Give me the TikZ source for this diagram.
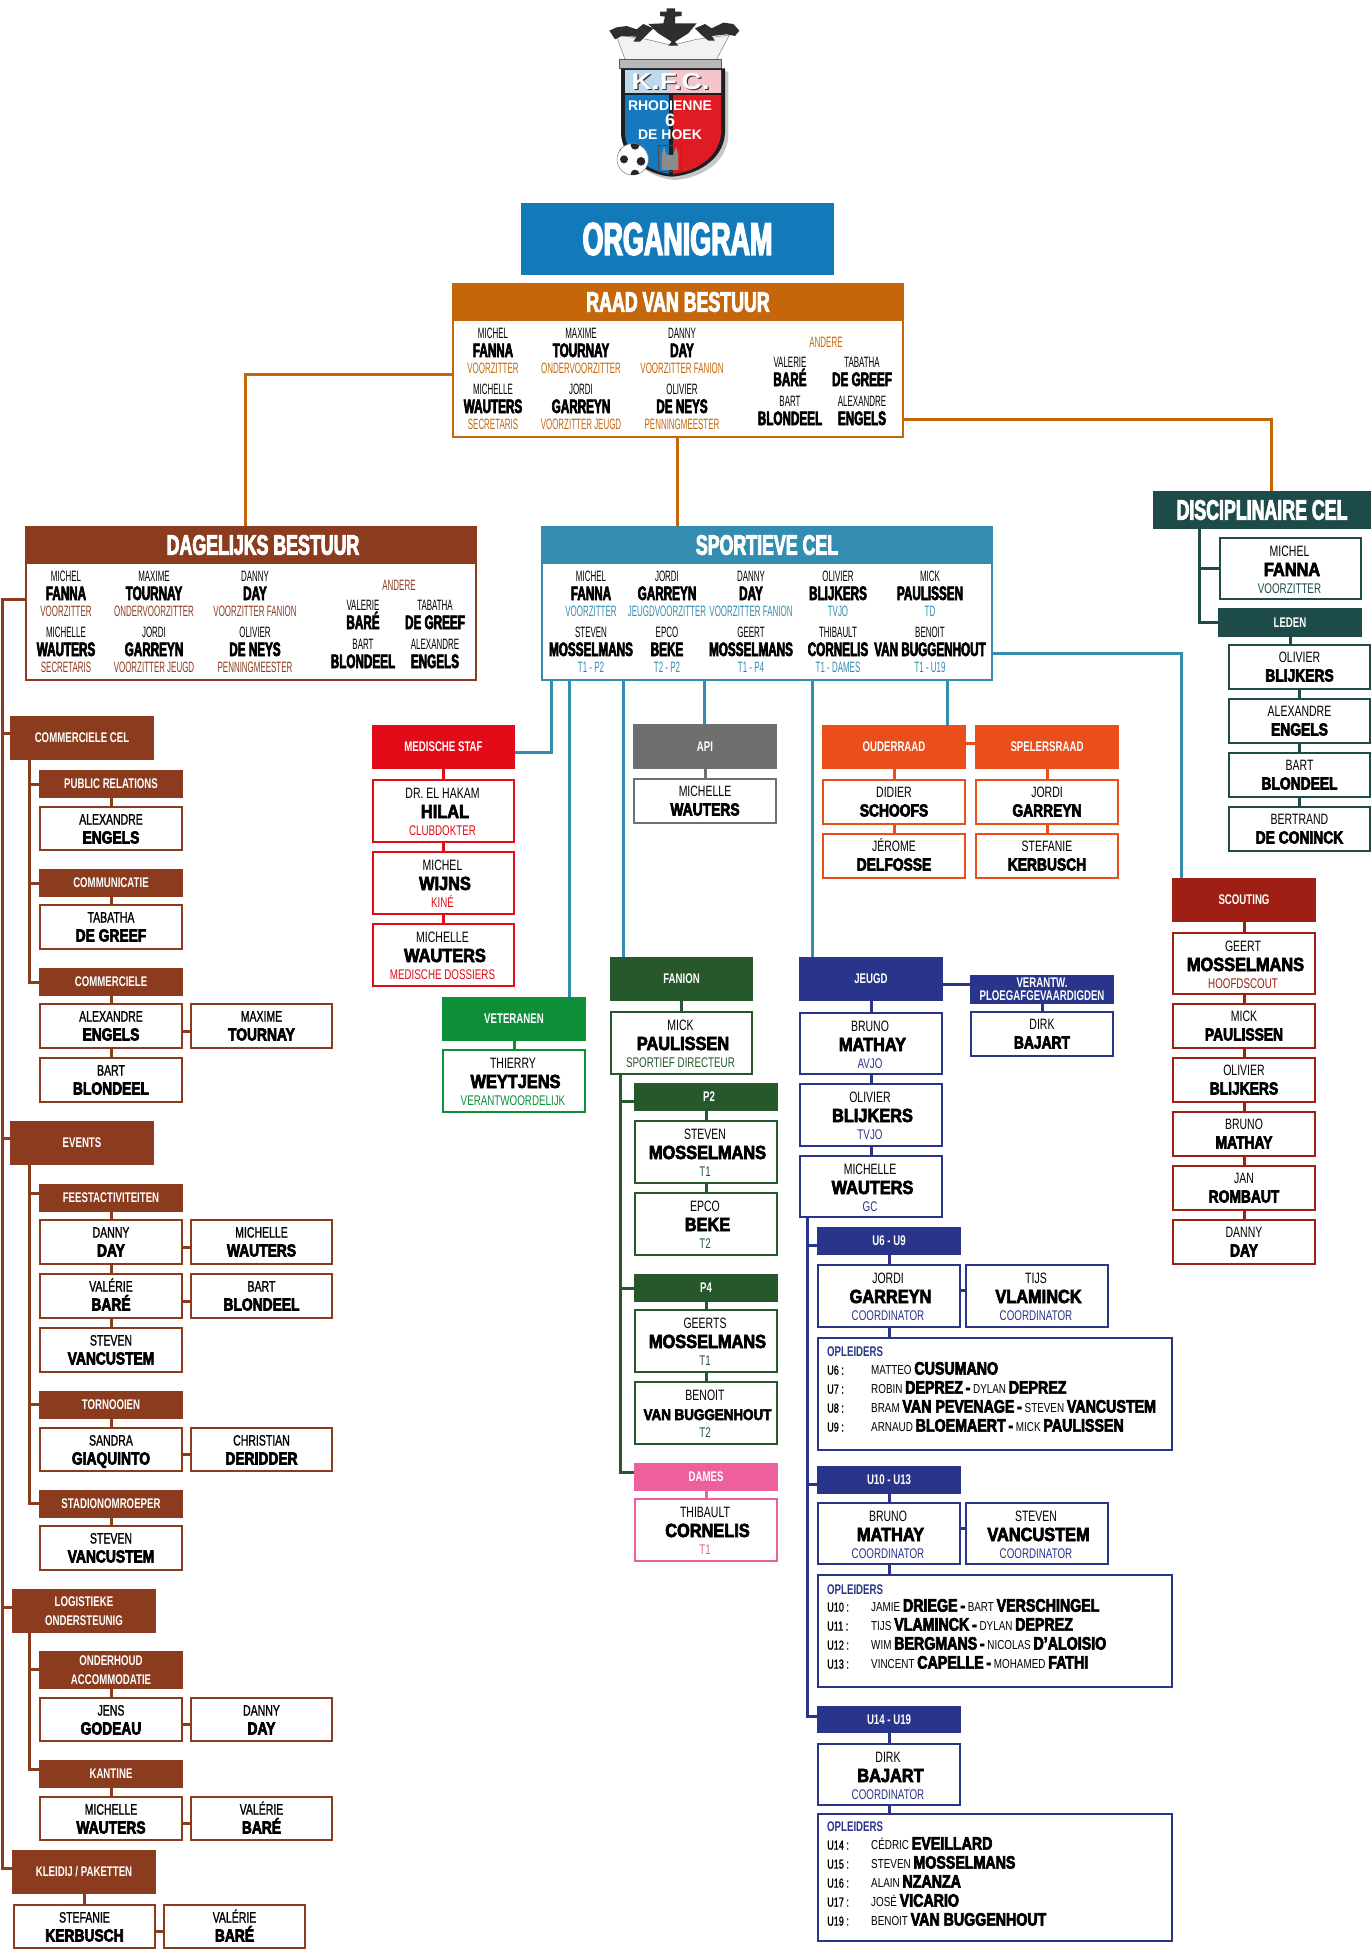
\documentclass[tikz,border=0pt]{standalone}
\usepackage{fontspec}
\usepackage{graphicx}
\setmainfont{Liberation Sans}
\newfontfamily\FTitle[FakeStretch=.635,FakeBold=3]{Liberation Sans Bold}
\newfontfamily\FBoard[FakeStretch=.60,FakeBold=3]{Liberation Sans Bold}
\newfontfamily\FOrg[FakeStretch=.585,FakeBold=3]{Liberation Sans Bold}
\newfontfamily\FFirst[FakeStretch=.53]{Liberation Sans}
\newfontfamily\FName[FakeStretch=.70]{Liberation Sans}
\newfontfamily\FMed[FakeStretch=.70,FakeBold=1.2]{Liberation Sans}
\newfontfamily\FLab[FakeStretch=.69]{Liberation Sans Bold}
\newfontfamily\FBig[FakeStretch=.86,FakeBold=3.5]{Liberation Sans Bold}
\newfontfamily\FSmall[FakeStretch=.79,FakeBold=3.5]{Liberation Sans Bold}
\newfontfamily\FOp[FakeStretch=.76]{Liberation Sans}
\newfontfamily\FLogo{Liberation Sans Bold}
\newfontfamily\FLogoW[FakeStretch=1.22]{Liberation Sans Bold}
\def\fT{\FTitle\fontsize{28}{28}\selectfont}
\def\fBL{\FBoard\fontsize{19.5}{19.5}\selectfont}
\def\fBF{\FFirst\fontsize{15}{15}\selectfont}
\def\fF{\FName\fontsize{15}{15}\selectfont}
\def\fM{\FMed\fontsize{15}{15}\selectfont}
\def\fL{\FBig\fontsize{19}{19}\selectfont}
\def\fS{\FSmall\fontsize{17.5}{17.5}\selectfont}
\def\fR{\FName\fontsize{14}{14}\selectfont}
\def\fH{\FLab\fontsize{14}{19}\selectfont}
\def\fOP{\FOp\fontsize{13}{13}\selectfont}
\newcommand\sm[1]{{\FOp\fontsize{13}{13}\selectfont #1}}
\newcommand\bgn[1]{{\FSmall\fontsize{18}{18}\selectfont #1}}
\definecolor{corg}{HTML}{137ABA}
\definecolor{craad}{HTML}{C5660A}
\definecolor{cdag}{HTML}{8B3C1E}
\definecolor{cspo}{HTML}{328DB1}
\definecolor{cdis}{HTML}{1C4B4A}
\definecolor{cmed}{HTML}{E30B17}
\definecolor{capi}{HTML}{6F6F6F}
\definecolor{coud}{HTML}{E94E1B}
\definecolor{cfan}{HTML}{26582C}
\definecolor{cvet}{HTML}{0F8E38}
\definecolor{cjeu}{HTML}{29358A}
\definecolor{cdam}{HTML}{EE609D}
\definecolor{csco}{HTML}{9F1F14}
\definecolor{lred}{HTML}{E01B24}
\definecolor{lblu}{HTML}{1678BE}
\definecolor{bblu}{HTML}{BCD9EE}
\definecolor{bpnk}{HTML}{F4C5CB}
\tikzset{
  hdr/.style={inner sep=0,text=white,font=\fH,align=center},
  frm/.style={draw,line width=2.3pt,fill=white,inner sep=0},
  conn/.style={line width=3pt}
}
\newcount\tcnt
\newcommand\nxt{\global\advance\tcnt by 1 }
\newcommand\TX[5]{\nxt\node[anchor=base,inner sep=0,text=#4,font=#3] (t\the\tcnt) at ({#1},{#2}) {#5};}
\newcommand\TL[5]{\nxt\node[anchor=base west,inner sep=0,text=#4,font=#3] (t\the\tcnt) at ({#1},{#2}) {#5};}
\newcommand\HM[7]{\node[hdr,fill=#6,minimum width={(#4-#2)*1pt},minimum height={(#5-#3)*1pt}] (#1) at ({(#2+#4)/2},{(#3+#5)/2}) {#7};}
\newcommand\HD[7]{\HM{#1}{#2}{#3}{#4}{#5}{#6}{\raisebox{-1.2pt}{#7}}}
\newcommand\FR[6]{\node[frm,draw=#6,minimum width={(#4-#2-2.3)*1pt},minimum height={(#5-#3-2.3)*1pt}] (#1) at ({(#2+#4)/2},{(#3+#5)/2}) {};}
\newcommand\PT[9]{\FR{#1}{#2}{#3}{#4}{#5}{#6}
  \TX{(#2+#4)/2-1}{#3+19.5}{\fF}{black}{#7}
  \TX{(#2+#4)/2+1.5}{#3+39}{\fL}{black}{#8}
  \TX{(#2+#4)/2-1}{#3+56}{\fR}{#6}{#9}}
\newcommand\PW[8]{\FR{#1}{#2}{#3}{#4}{#5}{#6}
  \TX{(#2+#4)/2}{#3+18.5}{\fF}{black}{#7}
  \TX{(#2+#4)/2}{#3+37.5}{\fS}{black}{#8}}
\newcommand\PB[8]{\FR{#1}{#2}{#3}{#4}{#5}{#6}
  \TX{(#2+#4)/2}{#3+18.5}{\fM}{black}{#7}
  \TX{(#2+#4)/2}{#3+37.5}{\fS}{black}{#8}}
% board entries
\newcommand\BP[6]{\TX{#1}{#2+5.4}{\fBF}{black}{#4}\TX{#1}{#2+24}{\fBL}{black}{#5}\TX{#1}{#2+40.4}{\fBF}{#3}{#6}}
\newcommand\BQ[4]{\TX{#1}{#2+5.4}{\fBF}{black}{#3}\TX{#1}{#2+24}{\fBL}{black}{#4}}
\newcommand\Board[3]{% dx dy colour
  \BP{493+#1}{333+#2}{#3}{MICHEL}{FANNA}{VOORZITTER}
  \BP{581+#1}{333+#2}{#3}{MAXIME}{TOURNAY}{ONDERVOORZITTER}
  \BP{682+#1}{333+#2}{#3}{DANNY}{DAY}{VOORZITTER FANION}
  \BP{493+#1}{389+#2}{#3}{MICHELLE}{WAUTERS}{SECRETARIS}
  \BP{581+#1}{389+#2}{#3}{JORDI}{GARREYN}{VOORZITTER JEUGD}
  \BP{682+#1}{389+#2}{#3}{OLIVIER}{DE NEYS}{PENNINGMEESTER}
  \TX{826+#1}{342+#2+5.4}{\fBF}{#3}{ANDERE}
  \BQ{790+#1}{362+#2}{VALERIE}{BARÉ}
  \BQ{862+#1}{362+#2}{TABATHA}{DE GREEF}
  \BQ{790+#1}{401+#2}{BART}{BLONDEEL}
  \BQ{862+#1}{401+#2}{ALEXANDRE}{ENGELS}}
\newcommand\VC[3]{\draw[conn,#1] (#2.south) -- (#2.south |- #3.north);}
\newcommand\HL[4]{\draw[conn,#1] (#2.east |- 0,#4) -- (#3.west |- 0,#4);}
\newcommand\BR[4]{\draw[conn,#1] (#2,#3) -- (#4.west |- 0,#3);}
\newcommand\OP[3]{\TL{827}{#1+4.6}{\fM\fontsize{13}{13}\selectfont}{black}{#2}\TL{871}{#1+4.6}{\fOP}{black}{#3}}
\newcommand\OH[2]{\TL{827}{#1+5}{\fH}{cjeu}{#2}}
\begin{document}
\begin{tikzpicture}[x=1pt,y=-1pt]
\useasboundingbox[fill=white] (0,0) rectangle (1371,1950);
% ---------- logo
\begin{scope}[shift={(440,0)},scale=1/3]
  \path[fill=black!22] (553,215) -- (865,215) -- (865,410) .. controls (860,490) and (780,535) .. (705,540) .. controls (630,535) and (555,480) .. (553,410) -- cycle;
  % crown body
  \path[fill=black!5,draw=black!45,line width=.6pt] (555,178) -- (528,105) -- (620,118) -- (695,136) -- (770,118) -- (868,105) -- (830,178) -- cycle;
  % ornaments
  \path[fill=black!82] (508,92) -- (530,82) -- (560,78) -- (590,88) -- (610,72) -- (640,85) -- (620,105) -- (600,125) -- (580,125) -- (590,110) -- (545,108) -- (525,118) -- cycle;
  \path[fill=black!82] (898,92) -- (880,72) -- (850,68) -- (815,85) -- (795,72) -- (765,85) -- (785,105) -- (805,122) -- (825,122) -- (815,108) -- (860,103) -- (885,108) -- cycle;
  \path[fill=black!82] (625,72) -- (670,70) -- (675,50) -- (660,48) -- (660,35) -- (680,35) -- (680,25) -- (705,25) -- (705,35) -- (725,35) -- (725,48) -- (705,50) -- (705,70) -- (770,70) -- (745,100) -- (705,125) -- (715,137) -- (685,137) -- (695,125) -- (655,100) -- cycle;
  \path[fill=black!28,draw=black!65,line width=.6pt] (537,178) -- (845,178) -- (845,205) -- (537,205) -- cycle;
  % shield
  \path[fill=black!88] (543,205) -- (855,205) -- (855,400) .. controls (850,480) and (770,525) .. (695,530) .. controls (620,525) and (545,470) .. (543,400) -- cycle;
  \begin{scope}
    \clip (555,210) -- (843,210) -- (843,400) .. controls (838,472) and (765,517) .. (695,522) .. controls (625,517) and (557,462) .. (555,400) -- cycle;
    \path[fill=lblu] (555,285) rectangle (686,530);
    \path[fill=lred] (698,285) rectangle (845,530);
    \path[fill=bblu] (555,210) rectangle (690,280);
    \path[fill=bpnk] (690,210) rectangle (845,280);
  \end{scope}
  \node[inner sep=0,font={\FLogoW\fontsize{23}{23}\selectfont},text=white] (lkfc) at (692,246) {\rlap{\raisebox{-1.2pt}{\kern1.2pt\color{black!80}K.F.C.}}K.F.C.};
  \node[inner sep=0,font={\FLogo\fontsize{14}{14}\selectfont},text=white] (lrho) at (690,316) {RHODIENNE};
  \node[inner sep=0,font={\FLogo\fontsize{18}{18}\selectfont},text=white] (lsix) at (690,360) {6};
  \node[inner sep=0,font={\FLogo\fontsize{14}{14}\selectfont},text=white] (lhoek) at (690,405) {DE HOEK};
  % church
  \path[draw=black!70,line width=.4pt] (655,435) rectangle (725,515);
  \path[fill=black!45] (665,510) -- (665,465) -- (672,440) -- (680,465) -- (700,465) -- (708,440) -- (715,465) -- (715,510) -- cycle;
  % ball
  \path[fill=white,draw=black!50,line width=.5pt] (578,478) circle (47);
  \begin{scope}
    \clip (578,478) circle (47);
    \path[fill=black!85] (603,484) circle (13);
    \path[fill=black!85] (552,478) circle (12);
    \path[fill=black!85] (585,436) circle (13);
    \path[fill=black!85] (585,522) circle (13);
    \path[fill=black!85] (535,445) circle (9);
  \end{scope}
\end{scope}
% ---------- top
\HM{org}{521}{203}{834}{275}{corg}{\FOrg\fontsize{46}{46}\selectfont ORGANIGRAM}
% Raad
\FR{raad}{452}{283}{904}{438}{craad}
\HM{raadh}{452}{283}{904}{321}{craad}{\fT RAAD VAN BESTUUR}
\Board{0}{0}{craad}
% Dagelijks
\FR{dag}{25}{526}{477}{681}{cdag}
\HM{dagh}{25}{526}{477}{564}{cdag}{\fT\kern24pt DAGELIJKS BESTUUR}
\Board{-427}{243}{cdag}
% Sportieve cel
\FR{spo}{541}{526}{993}{681}{cspo}
\HM{spoh}{541}{526}{993}{564}{cspo}{\fT SPORTIEVE CEL}
\BP{591}{576}{cspo}{MICHEL}{FANNA}{VOORZITTER}
\BP{667}{576}{cspo}{JORDI}{GARREYN}{JEUGDVOORZITTER}
\BP{751}{576}{cspo}{DANNY}{DAY}{VOORZITTER FANION}
\BP{838}{576}{cspo}{OLIVIER}{BLIJKERS}{TVJO}
\BP{930}{576}{cspo}{MICK}{PAULISSEN}{TD}
\BP{591}{632}{cspo}{STEVEN}{MOSSELMANS}{T1 - P2}
\BP{667}{632}{cspo}{EPCO}{BEKE}{T2 - P2}
\BP{751}{632}{cspo}{GEERT}{MOSSELMANS}{T1 - P4}
\BP{838}{632}{cspo}{THIBAULT}{CORNELIS}{T1 - DAMES}
\BP{930}{632}{cspo}{BENOIT}{VAN BUGGENHOUT}{T1 - U19}
% Disciplinaire
\HM{dis}{1153}{491}{1371}{529}{cdis}{\fT DISCIPLINAIRE CEL}
\PT{dfan}{1219}{537}{1362}{600}{cdis}{MICHEL}{FANNA}{VOORZITTER}
\HD{dled}{1218}{608}{1362}{637}{cdis}{LEDEN}
\PW{dbli}{1228}{644}{1371}{690}{cdis}{OLIVIER}{BLIJKERS}
\PW{deng}{1228}{698}{1371}{744}{cdis}{ALEXANDRE}{ENGELS}
\PW{dblo}{1228}{752}{1371}{798}{cdis}{BART}{BLONDEEL}
\PW{dcon}{1228}{806}{1371}{852}{cdis}{BERTRAND}{DE CONINCK}
% ---------- left column
\HD{comc}{10}{716}{154}{760}{cdag}{COMMERCIELE CEL}
\HD{pr}{39}{770}{183}{798}{cdag}{PUBLIC RELATIONS}
\PB{pr1}{39}{806}{183}{851}{cdag}{ALEXANDRE}{ENGELS}
\HD{cm}{39}{869}{183}{897}{cdag}{COMMUNICATIE}
\PB{cm1}{39}{904}{183}{950}{cdag}{TABATHA}{DE GREEF}
\HD{cc}{39}{968}{183}{996}{cdag}{COMMERCIELE}
\PB{cc1}{39}{1003}{183}{1049}{cdag}{ALEXANDRE}{ENGELS}
\PB{cc2}{190}{1003}{333}{1049}{cdag}{MAXIME}{TOURNAY}
\PB{cc3}{39}{1057}{183}{1103}{cdag}{BART}{BLONDEEL}
\HD{ev}{10}{1121}{154}{1165}{cdag}{EVENTS}
\HD{fe}{39}{1184}{183}{1212}{cdag}{FEESTACTIVITEITEN}
\PB{fe1}{39}{1219}{183}{1265}{cdag}{DANNY}{DAY}
\PB{fe2}{190}{1219}{333}{1265}{cdag}{MICHELLE}{WAUTERS}
\PB{fe3}{39}{1273}{183}{1319}{cdag}{VALÉRIE}{BARÉ}
\PB{fe4}{190}{1273}{333}{1319}{cdag}{BART}{BLONDEEL}
\PB{fe5}{39}{1327}{183}{1373}{cdag}{STEVEN}{VANCUSTEM}
\HD{to}{39}{1391}{183}{1419}{cdag}{TORNOOIEN}
\PB{to1}{39}{1427}{183}{1472}{cdag}{SANDRA}{GIAQUINTO}
\PB{to2}{190}{1427}{333}{1472}{cdag}{CHRISTIAN}{DERIDDER}
\HD{st}{39}{1490}{183}{1518}{cdag}{STADIONOMROEPER}
\PB{st1}{39}{1525}{183}{1571}{cdag}{STEVEN}{VANCUSTEM}
\HM{lo}{12}{1589}{156}{1633}{cdag}{LOGISTIEKE\\ONDERSTEUNIG}
\HM{on}{39}{1651}{183}{1689}{cdag}{ONDERHOUD\\ACCOMMODATIE}
\PB{on1}{39}{1697}{183}{1742}{cdag}{JENS}{GODEAU}
\PB{on2}{190}{1697}{333}{1742}{cdag}{DANNY}{DAY}
\HD{ka}{39}{1760}{183}{1788}{cdag}{KANTINE}
\PB{ka1}{39}{1796}{183}{1841}{cdag}{MICHELLE}{WAUTERS}
\PB{ka2}{190}{1796}{333}{1841}{cdag}{VALÉRIE}{BARÉ}
\HD{kl}{12}{1850}{156}{1894}{cdag}{KLEIDIJ / PAKETTEN}
\PB{kl1}{13}{1904}{156}{1949}{cdag}{STEFANIE}{KERBUSCH}
\PB{kl2}{163}{1904}{306}{1949}{cdag}{VALÉRIE}{BARÉ}
% ---------- medische
\HD{med}{372}{725}{515}{769}{cmed}{MEDISCHE STAF}
\PT{med1}{372}{779}{515}{843}{cmed}{DR. EL HAKAM}{HILAL}{CLUBDOKTER}
\PT{med2}{372}{851}{515}{915}{cmed}{MICHEL}{WIJNS}{KINÉ}
\PT{med3}{372}{923}{515}{987}{cmed}{MICHELLE}{WAUTERS}{MEDISCHE DOSSIERS}
\HD{vet}{442}{997}{586}{1041}{cvet}{VETERANEN}
\PT{vet1}{442}{1049}{586}{1113}{cvet}{THIERRY}{WEYTJENS}{VERANTWOORDELIJK}
% ---------- api, ouderraad, spelersraad
\HD{api}{633}{724}{777}{769}{capi}{API}
\PW{api1}{633}{778}{777}{824}{capi}{MICHELLE}{WAUTERS}
\HD{oud}{822}{725}{966}{769}{coud}{OUDERRAAD}
\PW{oud1}{822}{779}{966}{825}{coud}{DIDIER}{SCHOOFS}
\PW{oud2}{822}{833}{966}{879}{coud}{JÉROME}{DELFOSSE}
\HD{spe}{975}{725}{1119}{769}{coud}{SPELERSRAAD}
\PW{spe1}{975}{779}{1119}{825}{coud}{JORDI}{GARREYN}
\PW{spe2}{975}{833}{1119}{879}{coud}{STEFANIE}{KERBUSCH}
% ---------- fanion
\HD{fan}{610}{957}{753}{1001}{cfan}{FANION}
\PT{fan1}{610}{1011}{753}{1075}{cfan}{MICK}{PAULISSEN}{SPORTIEF DIRECTEUR}
\HD{p2}{634}{1083}{778}{1111}{cfan}{\kern6pt P2}
\PT{p21}{634}{1120}{778}{1184}{cfan}{STEVEN}{MOSSELMANS}{T1}
\PT{p22}{634}{1192}{778}{1256}{cfan}{EPCO}{BEKE}{T2}
\HD{p4}{634}{1274}{778}{1302}{cfan}{P4}
\PT{p41}{634}{1309}{778}{1373}{cfan}{GEERTS}{MOSSELMANS}{T1}
\PT{p42}{634}{1381}{778}{1445}{cfan}{BENOIT}{\scalebox{.82}{VAN BUGGENHOUT}}{T2}
\HD{dam}{634}{1463}{778}{1491}{cdam}{DAMES}
\PT{dam1}{634}{1498}{778}{1562}{cdam}{THIBAULT}{CORNELIS}{T1}
% ---------- jeugd
\HD{jeu}{799}{957}{943}{1001}{cjeu}{JEUGD}
\PT{jeu1}{799}{1012}{943}{1075}{cjeu}{BRUNO}{MATHAY}{AVJO}
\PT{jeu2}{799}{1083}{943}{1147}{cjeu}{OLIVIER}{BLIJKERS}{TVJO}
\PT{jeu3}{799}{1155}{943}{1218}{cjeu}{MICHELLE}{WAUTERS}{GC}
\HM{ver}{970}{975}{1114}{1004}{cjeu}{VERANTW.\\[-6pt]PLOEGAFGEVAARDIGDEN}
\PW{ver1}{970}{1011}{1114}{1057}{cjeu}{DIRK}{BAJART}
\HD{u6}{817}{1227}{961}{1255}{cjeu}{U6 - U9}
\PT{u6a}{817}{1264}{961}{1328}{cjeu}{JORDI}{GARREYN}{COORDINATOR}
\PT{u6b}{965}{1264}{1109}{1328}{cjeu}{TIJS}{VLAMINCK}{COORDINATOR}
\FR{u6o}{817}{1337}{1173}{1451}{cjeu}
\OH{1351}{OPLEIDERS}
\OP{1370}{U6 :}{\sm{MATTEO} \bgn{CUSUMANO}}
\OP{1389}{U7 :}{\sm{ROBIN} \bgn{DEPREZ} \bgn{-} \sm{DYLAN} \bgn{DEPREZ}}
\OP{1408}{U8 :}{\sm{BRAM} \bgn{VAN PEVENAGE} \bgn{-} \sm{STEVEN} \bgn{VANCUSTEM}}
\OP{1427}{U9 :}{\sm{ARNAUD} \bgn{BLOEMAERT} \bgn{-} \sm{MICK} \bgn{PAULISSEN}}
\HD{u10}{817}{1466}{961}{1494}{cjeu}{U10 - U13}
\PT{u10a}{817}{1502}{961}{1565}{cjeu}{BRUNO}{MATHAY}{COORDINATOR}
\PT{u10b}{965}{1502}{1109}{1565}{cjeu}{STEVEN}{VANCUSTEM}{COORDINATOR}
\FR{u10o}{817}{1574}{1173}{1688}{cjeu}
\OH{1589}{OPLEIDERS}
\OP{1607}{U10 :}{\sm{JAMIE} \bgn{DRIEGE} \bgn{-} \sm{BART} \bgn{VERSCHINGEL}}
\OP{1626}{U11 :}{\sm{TIJS} \bgn{VLAMINCK} \bgn{-} \sm{DYLAN} \bgn{DEPREZ}}
\OP{1645}{U12 :}{\sm{WIM} \bgn{BERGMANS} \bgn{-} \sm{NICOLAS} \bgn{D’ALOISIO}}
\OP{1664}{U13 :}{\sm{VINCENT} \bgn{CAPELLE} \bgn{-} \sm{MOHAMED} \bgn{FATHI}}
\HD{u14}{817}{1706}{961}{1733}{cjeu}{U14 - U19}
\PT{u14a}{817}{1743}{961}{1806}{cjeu}{DIRK}{BAJART}{COORDINATOR}
\FR{u14o}{817}{1813}{1173}{1942}{cjeu}
\OH{1826}{OPLEIDERS}
\OP{1845}{U14 :}{\sm{CÉDRIC} \bgn{EVEILLARD}}
\OP{1864}{U15 :}{\sm{STEVEN} \bgn{MOSSELMANS}}
\OP{1883}{U16 :}{\sm{ALAIN} \bgn{NZANZA}}
\OP{1902}{U17 :}{\sm{JOSÉ} \bgn{VICARIO}}
\OP{1921}{U19 :}{\sm{BENOIT} \bgn{VAN BUGGENHOUT}}
% ---------- scouting
\HD{sco}{1172}{878}{1316}{922}{csco}{SCOUTING}
\PT{sc1}{1172}{932}{1316}{995}{csco}{GEERT}{MOSSELMANS}{HOOFDSCOUT}
\PW{sc2}{1172}{1003}{1316}{1049}{csco}{MICK}{PAULISSEN}
\PW{sc3}{1172}{1057}{1316}{1103}{csco}{OLIVIER}{BLIJKERS}
\PW{sc4}{1172}{1111}{1316}{1157}{csco}{BRUNO}{MATHAY}
\PW{sc5}{1172}{1165}{1316}{1211}{csco}{JAN}{ROMBAUT}
\PW{sc6}{1172}{1219}{1316}{1265}{csco}{DANNY}{DAY}
% ========== connectors
\draw[conn,craad] (raad.west |- 0,374) -| (245,0 |- dagh.north);
\draw[conn,craad] (raad.east |- 0,419) -| (1271,0 |- dis.north);
\draw[conn,craad] (677,0 |- raad.south) -- (677,0 |- spoh.north);
% sportieve
\draw[conn,cspo] (551,0 |- spo.south) |- (med.east |- 0,752);
\draw[conn,cspo] (569,0 |- spo.south) -- (569,0 |- vet.north);
\draw[conn,cspo] (623,0 |- spo.south) -- (623,0 |- fan.north);
\draw[conn,cspo] (704,0 |- spo.south) -- (704,0 |- api.north);
\draw[conn,cspo] (812,0 |- spo.south) -- (812,0 |- jeu.north);
\draw[conn,cspo] (947,0 |- spo.south) -- (947,0 |- oud.north);
\draw[conn,cspo] (spo.east |- 0,653) -| (1181,0 |- sco.north);
% disciplinaire
\draw[conn,cdis] (1199,0 |- dis.south) |- (dled.west |- 0,622);
\BR{cdis}{1199}{568}{dfan}
\VC{cdis}{dled}{dbli}\VC{cdis}{dbli}{deng}\VC{cdis}{deng}{dblo}\VC{cdis}{dblo}{dcon}
% brown spine
\coordinate (spa) at (2.5,599);
\coordinate (spb) at (2.5,1868);
\draw[conn,cdag] (dag.west |- spa) -- (spa) -- (spb) -- (kl.west |- spb);
\BR{cdag}{2.5}{733}{comc}\BR{cdag}{2.5}{1138}{ev}\BR{cdag}{2.5}{1607}{lo}
\draw[conn,cdag] (29,0 |- comc.south) |- (cc.west |- 0,982);
\BR{cdag}{29}{784}{pr}\BR{cdag}{29}{883}{cm}
\draw[conn,cdag] (29,0 |- ev.south) |- (st.west |- 0,1503);
\BR{cdag}{29}{1193}{fe}\BR{cdag}{29}{1404}{to}
\draw[conn,cdag] (29,0 |- lo.south) |- (ka.west |- 0,1769);
\BR{cdag}{29}{1669}{on}
\VC{cdag}{pr}{pr1}\VC{cdag}{cm}{cm1}\VC{cdag}{cc}{cc1}\VC{cdag}{cc1}{cc3}
\HL{cdag}{cc1}{cc2}{1031}
\VC{cdag}{fe}{fe1}\VC{cdag}{fe1}{fe3}\VC{cdag}{fe3}{fe5}
\HL{cdag}{fe1}{fe2}{1247}\HL{cdag}{fe3}{fe4}{1301}
\VC{cdag}{to}{to1}\HL{cdag}{to1}{to2}{1454}
\VC{cdag}{st}{st1}
\VC{cdag}{on}{on1}\HL{cdag}{on1}{on2}{1724}
\VC{cdag}{ka}{ka1}\HL{cdag}{ka1}{ka2}{1823}
\VC{cdag}{kl}{kl1}\HL{cdag}{kl1}{kl2}{1931}
% medische etc
\VC{cmed}{med}{med1}\VC{cmed}{med1}{med2}\VC{cmed}{med2}{med3}
\VC{cvet}{vet}{vet1}
\VC{capi}{api}{api1}
\VC{coud}{oud}{oud1}\VC{coud}{oud1}{oud2}
\VC{coud}{spe}{spe1}\VC{coud}{spe1}{spe2}
\HL{coud}{oud}{spe}{743}
% fanion
\VC{cfan}{fan}{fan1}
\draw[conn,cfan] (620,0 |- fan1.south) |- (dam.west |- 0,1472);
\BR{cfan}{620}{1101}{p2}\BR{cfan}{620}{1288}{p4}
\VC{cfan}{p2}{p21}\VC{cfan}{p21}{p22}\VC{cfan}{p4}{p41}\VC{cfan}{p41}{p42}
\VC{cdam}{dam}{dam1}
% jeugd
\VC{cjeu}{jeu}{jeu1}\VC{cjeu}{jeu1}{jeu2}\VC{cjeu}{jeu2}{jeu3}
\HL{cjeu}{jeu}{ver}{984}\VC{cjeu}{ver}{ver1}
\draw[conn,cjeu] (807,0 |- jeu3.south) |- (u14.west |- 0,1716);
\BR{cjeu}{807}{1245}{u6}\BR{cjeu}{807}{1484}{u10}
\VC{cjeu}{u6}{u6a}\HL{cjeu}{u6a}{u6b}{1290}
\draw[conn,cjeu] (889,0 |- u6a.south) -- (889,0 |- u6o.north);
\VC{cjeu}{u10}{u10a}\HL{cjeu}{u10a}{u10b}{1528}
\draw[conn,cjeu] (889,0 |- u10a.south) -- (889,0 |- u10o.north);
\VC{cjeu}{u14}{u14a}
\draw[conn,cjeu] (889,0 |- u14a.south) -- (889,0 |- u14o.north);
% scouting
\VC{csco}{sco}{sc1}\VC{csco}{sc1}{sc2}\VC{csco}{sc2}{sc3}\VC{csco}{sc3}{sc4}\VC{csco}{sc4}{sc5}\VC{csco}{sc5}{sc6}
\end{tikzpicture}
\end{document}
